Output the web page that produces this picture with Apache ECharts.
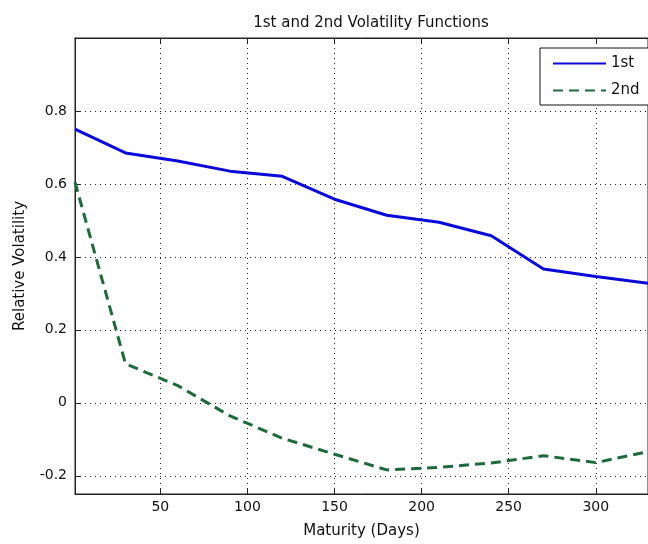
<!DOCTYPE html>
<html>
<head>
<meta charset="utf-8">
<script src="https://cdn.jsdelivr.net/npm/echarts@6/dist/echarts.min.js"></script>
<style>
html,body{margin:0;padding:0;background:#fff;}
#chart{width:648px;height:544px;}
</style>
</head>
<body>
<div id="chart"></div>
<script>
// ---- data ----
var titleText = '1st and 2nd Volatility Functions';
var xName = 'Maturity (Days)';
var yName = 'Relative Volatility';
var seriesNames = ['1st', '2nd'];
var days = [1, 30, 60, 90, 120, 150, 180, 210, 240, 270, 300, 330];
var firstVol = [0.750, 0.685, 0.663, 0.635, 0.621, 0.558, 0.514, 0.495, 0.458, 0.367, 0.346, 0.328];
var secondVol = [0.605, 0.107, 0.047, -0.036, -0.097, -0.141, -0.184, -0.177, -0.165, -0.145, -0.164, -0.134];
var xTicks = [50, 100, 150, 200, 250, 300];
var yTicks = [-0.2, 0, 0.2, 0.4, 0.6, 0.8];
var xRange = [1, 330];
var yRange = [-0.25, 1.0];

function pairs(xs, ys) { return xs.map(function (x, i) { return [x, ys[i]]; }); }

var FONT = 'DejaVu Sans';
var chart = echarts.init(document.getElementById('chart'), null, {renderer: 'canvas'});
var dotted = {color: '#222', width: 1, type: [1, 4]};

chart.setOption({
  backgroundColor: '#ffffff',
  animation: false,
  title: {
    text: titleText,
    left: 366, top: 11, textAlign: 'center',
    textStyle: {fontFamily: FONT, fontSize: 15, fontWeight: 'normal', color: '#111'}
  },
  grid: {left: 75, top: 38, bottom: 49, right: -9, show: true, borderColor: '#222', borderWidth: 1, backgroundColor: 'transparent'},
  legend: {
    orient: 'vertical', left: 540, top: 48,
    padding: [8, 10, 7, 12], itemGap: 12, itemWidth: 53, itemHeight: 14,
    borderColor: '#111', borderWidth: 1, backgroundColor: '#fff',
    itemStyle: {opacity: 0},
    textStyle: {fontFamily: FONT, fontSize: 15, color: '#111'},
    data: seriesNames
  },
  xAxis: [{
    type: 'value', min: xRange[0], max: xRange[1],
    name: xName, nameLocation: 'middle', nameGap: 30,
    nameTextStyle: {fontFamily: FONT, fontSize: 15, color: '#111'},
    axisLine: {show: true, onZero: false, lineStyle: {color: '#222', width: 1}},
    axisTick: {show: true, inside: true, length: 6, customValues: xTicks, lineStyle: {color: '#222'}},
    axisLabel: {customValues: xTicks, margin: 6, fontFamily: FONT, fontSize: 14, color: '#111'},
    splitLine: {show: true, lineStyle: dotted}
  }, {
    type: 'value', position: 'top', min: xRange[0], max: xRange[1],
    axisLine: {show: true, onZero: false, lineStyle: {color: '#222', width: 1}},
    axisTick: {show: true, inside: true, length: 6, customValues: xTicks, lineStyle: {color: '#222'}},
    axisLabel: {show: false},
    splitLine: {show: false}
  }],
  yAxis: {
    type: 'value', min: yRange[0], max: yRange[1],
    name: yName, nameLocation: 'middle', nameGap: 47, nameRotate: 90,
    nameTextStyle: {fontFamily: FONT, fontSize: 15, color: '#111'},
    axisLine: {show: true, onZero: false, lineStyle: {color: '#222', width: 1}},
    axisTick: {show: true, inside: true, length: 6, customValues: yTicks, lineStyle: {color: '#222'}},
    axisLabel: {customValues: yTicks, margin: 8, fontFamily: FONT, fontSize: 14, color: '#111'},
    splitLine: {show: true, lineStyle: dotted}
  },
  series: [{
    name: seriesNames[0], type: 'line', symbol: 'none', clip: true,
    data: pairs(days, firstVol),
    lineStyle: {color: '#0a0ad8', width: 3},
    itemStyle: {color: '#0a0ad8'}
  }, {
    name: seriesNames[1], type: 'line', symbol: 'none', clip: true,
    data: pairs(days, secondVol),
    lineStyle: {color: '#1f6a3c', width: 3, type: [10, 6]},
    itemStyle: {color: '#1f6a3c'}
  }]
});
</script>
</body>
</html>
